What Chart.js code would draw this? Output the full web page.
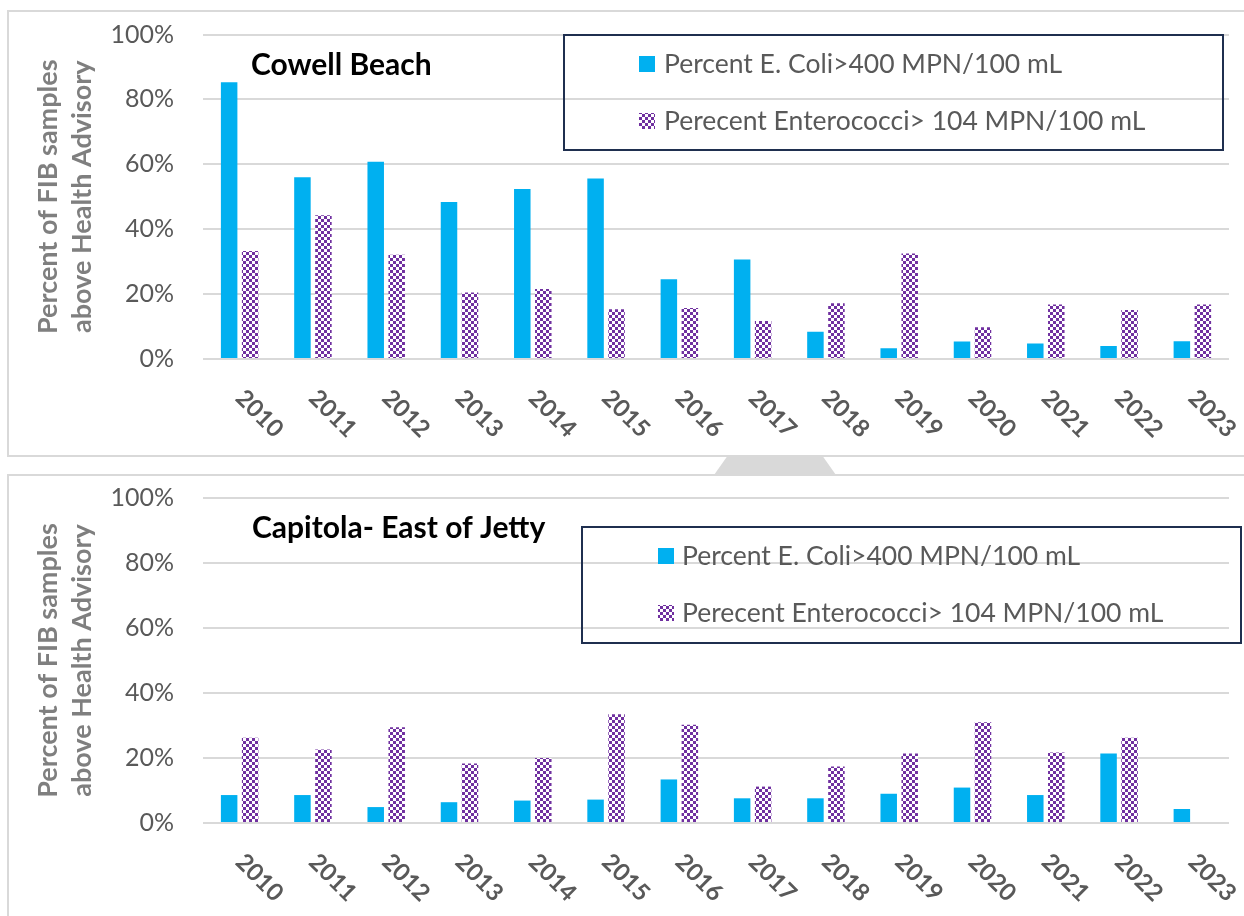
<!DOCTYPE html>
<html>
<head>
<meta charset="utf-8">
<script src="https://cdn.jsdelivr.net/npm/chart.js@4.4.0/dist/chart.umd.min.js"></script>
<style>
body { margin: 0; background: #fff; }
#wrap { position: relative; width: 1244px; height: 916px; overflow: hidden; }
.panel { position: absolute; border: 2px solid #d9d9d9; box-sizing: border-box; }
#p1 { left: 7px; top: 10px; width: 1260px; height: 447px; }
#p2 { left: 7px; top: 474px; width: 1260px; height: 470px; }
#notch { position: absolute; left: 714px; top: 456px; width: 122px; height: 19px; background: #d9d9d9;
  clip-path: polygon(11% 0, 89% 0, 100% 100%, 0 100%); }
canvas { position: absolute; left: 0; }
#c1 { top: 0; }
#c2 { top: 456px; }
</style>
</head>
<body>
<div id="wrap">
  <div class="panel" id="p1"></div>
  <div id="notch"></div>
  <div class="panel" id="p2"></div>
  <canvas id="c1" width="1244" height="456"></canvas>
  <canvas id="c2" width="1244" height="460"></canvas>
</div>
<script>
// data (percent of samples)
let years = ["2010", "2011", "2012", "2013", "2014", "2015", "2016", "2017", "2018", "2019", "2020", "2021", "2022", "2023"];
let seriesNames = ["Percent E. Coli>400 MPN/100 mL", "Perecent Enterococci> 104 MPN/100 mL"];
let cowellEcoli = [85.3, 56.0, 60.8, 48.4, 52.4, 55.6, 24.6, 30.7, 8.4, 3.3, 5.4, 4.8, 4.0, 5.5];
let cowellEntero = [33.3, 44.3, 32.1, 20.5, 21.6, 15.3, 15.7, 11.7, 17.2, 32.5, 9.8, 16.8, 15.1, 16.8];
let capitolaEcoli = [8.6, 8.6, 4.9, 6.4, 6.9, 7.2, 13.4, 7.6, 7.6, 9.0, 10.9, 8.6, 21.4, 4.3];
let capitolaEntero = [26.2, 22.6, 29.5, 18.3, 20.0, 33.5, 30.2, 11.2, 17.4, 21.4, 31.0, 21.7, 26.2, null];
let yTicks = [0, 20, 40, 60, 80, 100];

const BLUE = "#00b0f0";
const PURPLE = "#7030a0";

// small checker board fill like the excel one
function checker() {
  let c = document.createElement("canvas");
  c.width = 6; c.height = 6;
  let g = c.getContext("2d");
  g.fillStyle = "#fff";
  g.fillRect(0, 0, 6, 6);
  g.fillStyle = PURPLE;
  g.fillRect(0, 0, 3, 3);
  g.fillRect(3, 3, 3, 3);
  return g.createPattern(c, "repeat");
}

// year labels turned clockwise, site name and the boxed legend
const panelPlugin = {
  id: "panel",
  afterDraw(chart, args, o) {
    const ctx = chart.ctx;
    const xs = chart.scales.x;
    const area = chart.chartArea;
    ctx.save();

    ctx.fillStyle = "#595959";
    ctx.font = "bold 24px Lato";
    ctx.textAlign = "left";
    ctx.textBaseline = "middle";
    chart.data.labels.forEach((lab, i) => {
      ctx.save();
      ctx.translate(xs.getPixelForTick(i), area.bottom + 35);
      ctx.rotate(Math.PI / 4);
      ctx.fillText(lab, 0, 0);
      ctx.restore();
    });

    ctx.textBaseline = "alphabetic";
    ctx.fillStyle = "#000";
    ctx.font = "bold 30px Lato";
    ctx.fillText(o.title, o.titleX, o.titleBase);

    ctx.strokeStyle = "#1f2f4f";
    ctx.lineWidth = 2;
    ctx.strokeRect(o.box[0], o.box[1], o.box[2], o.box[3]);

    ctx.font = "26.5px Lato";
    chart.data.datasets.forEach((ds, i) => {
      const base = o.itemBase[i];
      ctx.fillStyle = ds.backgroundColor;
      ctx.fillRect(o.markX, base - 17, 16, 16);
      ctx.fillStyle = "#595959";
      ctx.fillText(ds.label, o.textX, base);
    });
    ctx.restore();
  }
};

function makeChart(id, ecoli, entero, pad, panel) {
  return new Chart(document.getElementById(id), {
    type: "bar",
    data: {
      labels: years,
      datasets: [
        { label: seriesNames[0], data: ecoli, backgroundColor: BLUE, categoryPercentage: 0.573, barPercentage: 0.786 },
        { label: seriesNames[1], data: entero, backgroundColor: checker(), categoryPercentage: 0.573, barPercentage: 0.786 }
      ]
    },
    options: {
      responsive: false,
      animation: false,
      layout: { padding: pad },
      plugins: {
        legend: { display: false },
        tooltip: { enabled: false },
        panel: panel
      },
      scales: {
        x: {
          grid: { display: false, drawTicks: false },
          border: { display: false },
          ticks: { display: false },
          afterFit: s => { s.height = 0; }
        },
        y: {
          min: 0,
          max: 100,
          afterBuildTicks: s => { s.ticks = yTicks.map(v => ({ value: v })); },
          afterFit: s => {
            s.width = 203;
            s.paddingTop = 0;
            s.paddingBottom = 0;
          },
          grid: { color: "#d9d9d9", lineWidth: 2, drawTicks: false },
          border: { display: false },
          ticks: {
            padding: 29,
            color: "#595959",
            font: { family: "Lato", size: 25 },
            callback: v => v + "%"
          },
          title: {
            display: true,
            text: ["Percent of FIB samples", "above Health Advisory"],
            color: "#7f7f7f",
            font: { family: "Lato", size: 27, weight: "bold", lineHeight: "34px" },
            padding: { top: 31.5, bottom: 0 }
          }
        }
      }
    },
    plugins: [panelPlugin]
  });
}

makeChart("c1", cowellEcoli, cowellEntero,
  { top: 34.5, right: 15, bottom: 97, left: 0 },
  { title: "Cowell Beach", titleX: 251, titleBase: 75,
    box: [564, 35, 659, 115], markX: 639, textX: 664, itemBase: [73, 130] });

makeChart("c2", capitolaEcoli, capitolaEntero,
  { top: 42, right: 15, bottom: 93, left: 0 },
  { title: "Capitola- East of Jetty", titleX: 252, titleBase: 82,
    box: [582, 71, 659, 116], markX: 658, textX: 682, itemBase: [109, 166] });
</script>
</body>
</html>
